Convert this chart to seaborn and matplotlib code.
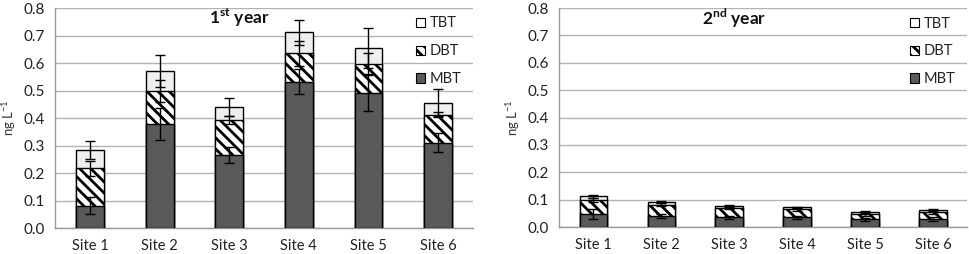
import matplotlib
matplotlib.use("Agg")
import matplotlib.pyplot as plt
from matplotlib.patches import Patch
import seaborn as sns
import pandas as pd
import numpy as np

sites = ["Site 1", "Site 2", "Site 3", "Site 4", "Site 5", "Site 6"]

# Year 1 (segment values, ng/L)
y1_mbt = [0.082, 0.378, 0.265, 0.533, 0.492, 0.310]
y1_dbt = [0.136, 0.120, 0.128, 0.102, 0.103, 0.103]
y1_tbt = [0.065, 0.072, 0.047, 0.077, 0.060, 0.043]
y1_mbt_err = [0.030, 0.058, 0.030, 0.047, 0.067, 0.035]
y1_dbt_err = [0.027, 0.040, 0.015, 0.045, 0.040, 0.008]
y1_tbt_err = [0.032, 0.058, 0.032, 0.045, 0.073, 0.050]

# Year 2
y2_mbt = [0.047, 0.040, 0.035, 0.035, 0.028, 0.030]
y2_dbt = [0.053, 0.042, 0.033, 0.030, 0.019, 0.025]
y2_tbt = [0.012, 0.010, 0.009, 0.007, 0.008, 0.008]
y2_mbt_err = [0.019, 0.008, 0.004, 0.007, 0.004, 0.006]
y2_dbt_err = [0.008, 0.006, 0.003, 0.006, 0.006, 0.006]
y2_tbt_err = [0.004, 0.004, 0.003, 0.003, 0.003, 0.003]

titles = ["1", "2"]
sups = ["st", "nd"]

sns.set_theme(style="white")
plt.rcParams["font.family"] = ["Lato", "DejaVu Sans"]
plt.rcParams["hatch.linewidth"] = 2.0
plt.rcParams["mathtext.fontset"] = "custom"
plt.rcParams["mathtext.bf"] = "Lato:bold"
plt.rcParams["mathtext.rm"] = "Lato"

fig = plt.figure(figsize=(9.69, 2.54), dpi=100)
ax1 = fig.add_axes([0.057, 0.102, 0.431, 0.866])
ax2 = fig.add_axes([0.577, 0.106, 0.421, 0.862])

dark = "#595959"
light = "#efefef"
grid_c = "#b3b3b3"

datasets = [
    (y1_mbt, y1_dbt, y1_tbt, y1_mbt_err, y1_dbt_err, y1_tbt_err),
    (y2_mbt, y2_dbt, y2_tbt, y2_mbt_err, y2_dbt_err, y2_tbt_err),
]

for i, (ax, (m, d, t, me, de, te)) in enumerate(zip([ax1, ax2], datasets)):
    m = np.array(m); d = np.array(d); t = np.array(t)
    c1 = m
    c2 = m + d
    c3 = m + d + t
    df = pd.DataFrame({"site": sites, "mbt": c1, "dbt": c2, "tbt": c3})
    ax.set_axisbelow(True)
    ax.yaxis.grid(True, color=grid_c, lw=1.0)
    sns.barplot(data=df, x="site", y="tbt", color=light, edgecolor="black",
                linewidth=1.0, width=0.4, saturation=1, ax=ax, zorder=2)
    sns.barplot(data=df, x="site", y="dbt", color="white", edgecolor="black",
                linewidth=1.0, width=0.4, saturation=1, ax=ax, hatch="\\\\\\", zorder=3)
    sns.barplot(data=df, x="site", y="mbt", color=dark, edgecolor="black",
                linewidth=1.0, width=0.4, saturation=1, ax=ax, zorder=4)
    x = np.arange(len(sites))
    for cum, err in [(c1, me), (c2, de), (c3, te)]:
        ax.errorbar(x, cum, yerr=err, fmt="none", ecolor="black", elinewidth=1.0,
                    capsize=3.5, capthick=1.0, zorder=6)
    ax.set_ylim(0, 0.8)
    ax.set_xlim(-0.5, 5.5)
    ax.set_yticks(np.arange(0, 0.81, 0.1))
    ax.set_yticklabels([f"{v:.1f}" for v in np.arange(0, 0.81, 0.1)])
    ax.set_xlabel("")
    ax.set_ylabel("ng L$^{\\mathrm{-1}}$", fontsize=9.5, color="#333333", labelpad=4)
    ax.set_xticks(x)
    ax.set_xticks(np.arange(-0.5, 6, 1), minor=True)
    ax.tick_params(axis="x", which="major", length=0, labelsize=10.5, colors="#222222", pad=8)
    ax.tick_params(axis="x", which="minor", length=4, color="#888888", direction="out")
    ax.tick_params(axis="y", which="major", length=4, color="#888888", labelsize=11,
                   colors="#222222", direction="out")
    ax.tick_params(axis="y", colors="#888888")
    for lab in ax.get_yticklabels():
        lab.set_color("#222222")
    for s in ["top", "right"]:
        ax.spines[s].set_visible(False)
    for s in ["left", "bottom"]:
        ax.spines[s].set_color("#999999")
        ax.spines[s].set_linewidth(1.0)
    ax.text(0.44 if i == 0 else 0.43, 0.955,
            f"{titles[i]}$^{{\\mathbf{{{sups[i]}}}}}$ year",
            transform=ax.transAxes, ha="center", va="center", fontsize=12.5,
            fontweight="bold", color="#111111")
    handles = [
        Patch(facecolor="white", edgecolor="black", lw=0.8, label="TBT"),
        Patch(facecolor="white", edgecolor="black", lw=0.8, hatch="\\\\\\", label="DBT"),
        Patch(facecolor=dark, edgecolor="black", lw=0.8, label="MBT"),
    ]
    leg = ax.legend(handles=handles, loc="upper right", bbox_to_anchor=(1.0, 1.015),
                    frameon=False, fontsize=10.5, labelspacing=0.95, handlelength=0.6,
                    handleheight=0.6, handletextpad=0.3, borderaxespad=0.4)
    for txt in leg.get_texts():
        txt.set_color("#222222")

fig.savefig("out.png", dpi=100)
